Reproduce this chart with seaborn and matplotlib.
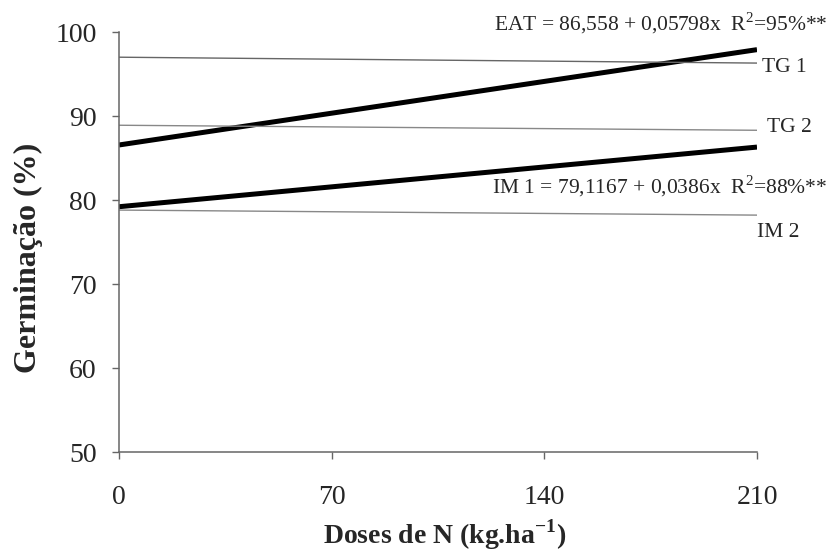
import matplotlib
matplotlib.use("Agg")
import matplotlib.pyplot as plt
import seaborn as sns
import pandas as pd

doses = [0, 210]
eat = [86.55, 97.9]
tg1 = [97.0, 96.3]
tg2 = [88.9, 88.3]
im1 = [79.2, 86.3]
im2 = [78.8, 78.2]

series_names = ["EAT", "TG 1", "TG 2", "IM 1", "IM 2"]
series_vals = [eat, tg1, tg2, im1, im2]
widths = [3.6, 1.0, 1.0, 3.6, 1.0]
colors = ["#000000", "#666666", "#888888", "#000000", "#888888"]

xticks = [0, 70, 140, 210]
yticks = [50, 60, 70, 80, 90, 100]

sns.set_theme(style="white")
plt.rcParams["font.family"] = ["Liberation Serif", "DejaVu Serif"]
plt.rcParams["mathtext.fontset"] = "custom"
plt.rcParams["mathtext.rm"] = "Liberation Serif"

rows = []
for n, v in zip(series_names, series_vals):
    for x, y in zip(doses, v):
        rows.append({"serie": n, "dose": x, "germ": y})
df = pd.DataFrame(rows)

W, H = 830, 557
fig = plt.figure(figsize=(8.3, 5.57), dpi=100)
ax = fig.add_axes([119 / W, 1 - 452 / H, 638 / W, 420 / H])
for n, w, c in zip(series_names, widths, colors):
    sns.lineplot(data=df[df.serie == n], x="dose", y="germ", ax=ax,
                 color=c, linewidth=w, legend=False, solid_capstyle="butt")

ax.set_xlim(0, 210)
ax.set_ylim(50, 100)
ax.set_xticks(xticks)
ax.set_yticks(yticks)
ax.set_xticklabels([str(t) for t in xticks], fontsize=20)
ax.set_yticklabels([str(t) for t in yticks], fontsize=20)
ax.tick_params(axis="x", direction="out", length=5, width=1.0, color="#666666", pad=19, bottom=True)
ax.tick_params(axis="y", direction="out", length=5, width=1.0, color="#666666", pad=11, left=True)
for s in ["top", "right"]:
    ax.spines[s].set_visible(False)
for s in ["left", "bottom"]:
    ax.spines[s].set_color("#666666")
    ax.spines[s].set_linewidth(1.1)
ax.set_xlabel("")
ax.set_ylabel("")

def fx(px):
    return px / W

def fy(py):
    return 1 - py / H

fig.text(fx(445), fy(535), "Doses de N (kg.ha$^{\\mathregular{-1}}$)", fontsize=20,
         fontweight="bold", ha="center", va="center")
fig.text(fx(28.5), fy(258), "Germinação (%)", fontsize=23, fontweight="bold",
         ha="center", va="center", rotation=90)

fs = 15.5
fig.text(fx(827), fy(23), "EAT = 86,558 + 0,05798x  R$^{\\mathregular{2}}$=95%**", fontsize=fs,
         ha="right", va="center")
fig.text(fx(762), fy(67), "TG 1", fontsize=fs, ha="left", va="center")
fig.text(fx(767), fy(128), "TG 2", fontsize=fs, ha="left", va="center")
fig.text(fx(827), fy(186), "IM 1 = 79,1167 + 0,0386x  R$^{\\mathregular{2}}$=88%**", fontsize=fs,
         ha="right", va="center")
fig.text(fx(757), fy(233), "IM 2", fontsize=fs, ha="left", va="center")

fig.savefig("out.png", dpi=100)
